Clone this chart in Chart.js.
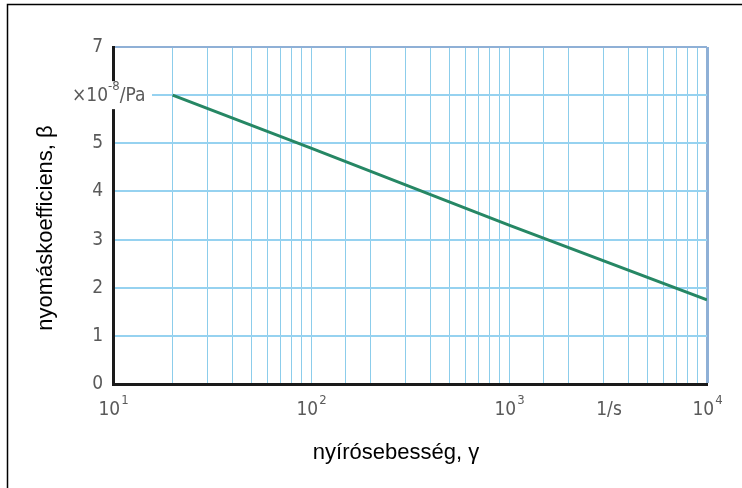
<!DOCTYPE html>
<html>
<head>
<meta charset="utf-8">
<script src="https://cdn.jsdelivr.net/npm/chart.js@4.4.0/dist/chart.umd.min.js"></script>
<style>
  html, body { margin: 0; padding: 0; background: #fff; }
  #wrap { width: 742px; height: 488px; position: relative; }
</style>
</head>
<body>
<div id="wrap"><canvas id="chart" width="742" height="488"></canvas></div>
<script>
// shear rate (1/s) and pressure coefficient (x10^-8 / Pa)
const shearRate = [20, 100, 1000, 10000];
const pressureCoeff = [6.0, 4.9, 3.3, 1.75];

const xTickValues = [10, 100, 1000, 10000];
const xTickExponents = ['1', '2', '3', '4'];
const xUnitValue = 3200;
const xUnitLabel = '1/s';
const yTickLabels = ['0', '1', '2', '3', '4', '5', '', '7'];
const yUnitValue = 6;

const xTitle = 'nyírósebesség, γ';
const yTitle = 'nyomáskoefficiens, β';

const tickFont = '"DejaVu Sans Condensed", "Open Sans", sans-serif';
const titleFont = '"Liberation Sans", Arial, sans-serif';
const tickColor = '#5a5a5a';
const gridBlue = 'rgb(140, 205, 235)';
const gridBlueH = 'rgb(150, 210, 240)';
const frameBlue = '#8fb0d6';

const labelsPlugin = {
    id: 'labels',
    afterDraw(chart) {
        const ctx = chart.ctx;
        const xs = chart.scales.x;
        const ys = chart.scales.y;
        const area = chart.chartArea;
        ctx.save();

        // outer frame (left + top)
        ctx.strokeStyle = '#000';
        ctx.lineWidth = 1.5;
        ctx.beginPath();
        ctx.moveTo(7.5, 488);
        ctx.lineTo(7.5, 4.5);
        ctx.lineTo(742, 4.5);
        ctx.stroke();

        // x tick labels with exponents
        ctx.fillStyle = tickColor;
        ctx.textBaseline = 'alphabetic';
        const baseY = area.bottom + 31;
        xTickValues.forEach((v, i) => {
            const px = xs.getPixelForValue(v);
            ctx.font = '19px ' + tickFont;
            const w1 = ctx.measureText('10').width;
            ctx.font = '13px ' + tickFont;
            const w2 = ctx.measureText(xTickExponents[i]).width;
            const start = px - (w1 + w2) / 2;
            ctx.font = '19px ' + tickFont;
            ctx.textAlign = 'left';
            ctx.fillText('10', start, baseY);
            ctx.font = '13px ' + tickFont;
            ctx.fillText(xTickExponents[i], start + w1 + 1, baseY - 11);
        });
        ctx.font = '19px ' + tickFont;
        ctx.textAlign = 'center';
        ctx.fillText(xUnitLabel, xs.getPixelForValue(xUnitValue), baseY);

        // y unit label, sits over the axis on a white patch
        const uy = ys.getPixelForValue(yUnitValue);
        ctx.fillStyle = '#fff';
        ctx.fillRect(70, uy - 14, 82, 28);
        ctx.fillStyle = tickColor;
        ctx.textAlign = 'left';
        ctx.textBaseline = 'middle';
        ctx.font = '19px ' + tickFont;
        let x0 = 72;
        ctx.fillText('×10', x0, uy + 1);
        x0 += ctx.measureText('×10').width;
        ctx.font = '13px ' + tickFont;
        ctx.fillText('-8', x0, uy - 9);
        x0 += ctx.measureText('-8').width;
        ctx.font = '19px ' + tickFont;
        ctx.fillText('/Pa', x0, uy + 1);

        // axis titles
        ctx.fillStyle = '#000';
        ctx.font = '22px ' + titleFont;
        ctx.textAlign = 'center';
        ctx.textBaseline = 'middle';
        ctx.fillText(xTitle, 396, 453);
        ctx.translate(46, 228);
        ctx.rotate(-Math.PI / 2);
        ctx.fillText(yTitle, 0, 0);
        ctx.restore();
    }
};

new Chart(document.getElementById('chart'), {
    type: 'line',
    data: {
        datasets: [{
            data: shearRate.map((x, i) => ({ x: x, y: pressureCoeff[i] })),
            borderColor: 'rgb(38, 135, 100)',
            borderWidth: 3,
            pointRadius: 0,
            tension: 0,
            fill: false
        }]
    },
    options: {
        responsive: false,
        animation: false,
        layout: { padding: { left: 0, right: 35, top: 47, bottom: 0 } },
        plugins: { legend: { display: false }, tooltip: { enabled: false } },
        scales: {
            x: {
                type: 'logarithmic',
                min: 10,
                max: 10000,
                afterFit(scale) { scale.height = 104; },
                border: { color: '#1a1a1a', width: 3 },
                grid: {
                    drawTicks: false,
                    color: ctx => ctx.tick && ctx.tick.value === 10000 ? frameBlue : gridBlue,
                    lineWidth: ctx => ctx.tick && ctx.tick.value === 10000 ? 3 : 1
                },
                ticks: { autoSkip: false, maxRotation: 0, callback: () => '' }
            },
            y: {
                min: 0,
                max: 7,
                afterFit(scale) { scale.width = 113; },
                border: { color: '#1a1a1a', width: 3 },
                grid: {
                    drawTicks: false,
                    color: ctx => ctx.tick && ctx.tick.value === 7 ? frameBlue : gridBlueH,
                    lineWidth: ctx => ctx.tick && ctx.tick.value === 7 ? 2 : 2
                },
                ticks: {
                    stepSize: 1,
                    padding: 10,
                    color: tickColor,
                    font: { family: tickFont, size: 19 },
                    callback: v => yTickLabels[v]
                }
            }
        }
    },
    plugins: [labelsPlugin]
});
</script>
</body>
</html>
